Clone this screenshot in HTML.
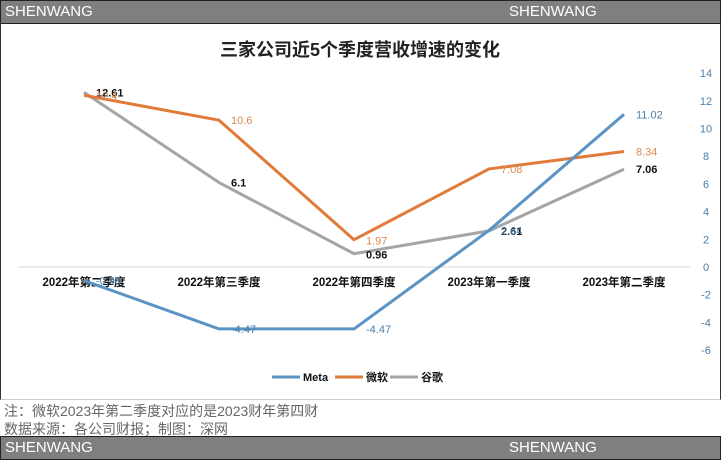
<!DOCTYPE html>
<html><head><meta charset="utf-8"><style>
body{margin:0;width:721px;height:459px;overflow:hidden;background:#fff;font-family:"Liberation Sans","Noto Sans CJK SC",sans-serif}
.band{position:absolute;left:0;width:719px;height:22px;background:#7f7f7f;color:#fff;font-size:15px;line-height:22px;border:1px solid #222}
.band span{position:absolute}
</style></head><body>
<div class="band" style="top:0"><span style="left:4px">SHENWANG</span><span style="left:508px">SHENWANG</span></div>
<div style="position:absolute;left:0;top:23px;width:719px;height:376px;border-left:1px solid #333;border-right:1px solid #333;border-bottom:1px solid #ccc"></div>
<svg id="c" width="721" height="459" style="position:absolute;left:0;top:0"></svg>
<div style="position:absolute;left:4px;top:401px;font-size:14px;color:#666">注：微软2023年第二季度对应的是2023财年第四财</div>
<div style="position:absolute;left:4px;top:419px;font-size:14px;color:#666">数据来源：各公司财报；制图：深网</div>
<div class="band" style="top:436px"><span style="left:4px">SHENWANG</span><span style="left:508px">SHENWANG</span></div>
<script>
const categories=["2022年第二季度","2022年第三季度","2022年第四季度","2023年第一季度","2023年第二季度"];
const meta=[-0.98,-4.47,-4.47,2.64,11.02];
const msft=[12.4,10.6,1.97,7.08,8.34];
const google=[12.61,6.1,0.96,2.61,7.06];
const ticks=[-6,-4,-2,0,2,4,6,8,10,12,14];
const NS="http://www.w3.org/2000/svg";
const svg=document.getElementById('c');
const x=i=>84+i*135;
const y=v=>267-v*13.85;
function mk(t,a){const e=document.createElementNS(NS,t);for(const k in a)e.setAttribute(k,a[k]);svg.appendChild(e);return e;}
let t=mk('text',{x:360,y:56,'text-anchor':'middle','font-size':18,'font-weight':'bold',fill:'#222'});t.textContent='三家公司近5个季度营收增速的变化';

let ax=mk('line',{x1:18,x2:690,y1:y(0),y2:y(0),stroke:'#d9d9d9','stroke-width':1});

ticks.forEach(v=>{const e=mk('text',{x:706,y:y(v)+4,'text-anchor':'middle','font-size':11,fill:'#4a7eab'});e.textContent=v;
});
categories.forEach((c,i)=>{const e=mk('text',{x:x(i),y:y(0)+19,'text-anchor':'middle','font-size':11.5,'font-weight':'bold',fill:'#111'});e.textContent=c;
});
const series=[[google,'#a5a5a5','google-line','#111'],[msft,'#e07b39','microsoft-line','#d9894e'],[meta,'#5b93c4','meta-line','#4a7eab']];
series.forEach(([d,col,nm,lc])=>{
 const p=mk('polyline',{points:d.map((v,i)=>x(i)+','+y(v)).join(' '),fill:'none',stroke:col,'stroke-width':3,'stroke-linejoin':'round'});
 
 d.forEach((v,i)=>{const e=mk('text',{x:x(i)+12,y:y(v)+4,'font-size':11,'font-weight':nm=='google-line'?'bold':'normal',fill:lc});
 if(nm=='microsoft-line'&&i==2)e.setAttribute('y',y(v)+5);
 if(nm=='google-line'&&i==2)e.setAttribute('y',y(v)+5);
 e.textContent=v;});
});
const leg=[['Meta','#5b93c4',272],['微软','#e07b39',335],['谷歌','#a5a5a5',390]];
leg.forEach(([n,c,lx])=>{const l=mk('line',{x1:lx,x2:lx+28,y1:377,y2:377,stroke:c,'stroke-width':3});

const e=mk('text',{x:lx+31,y:381,'font-size':11,'font-weight':'bold',fill:'#111'});e.textContent=n;
});
</script>
</body></html>
